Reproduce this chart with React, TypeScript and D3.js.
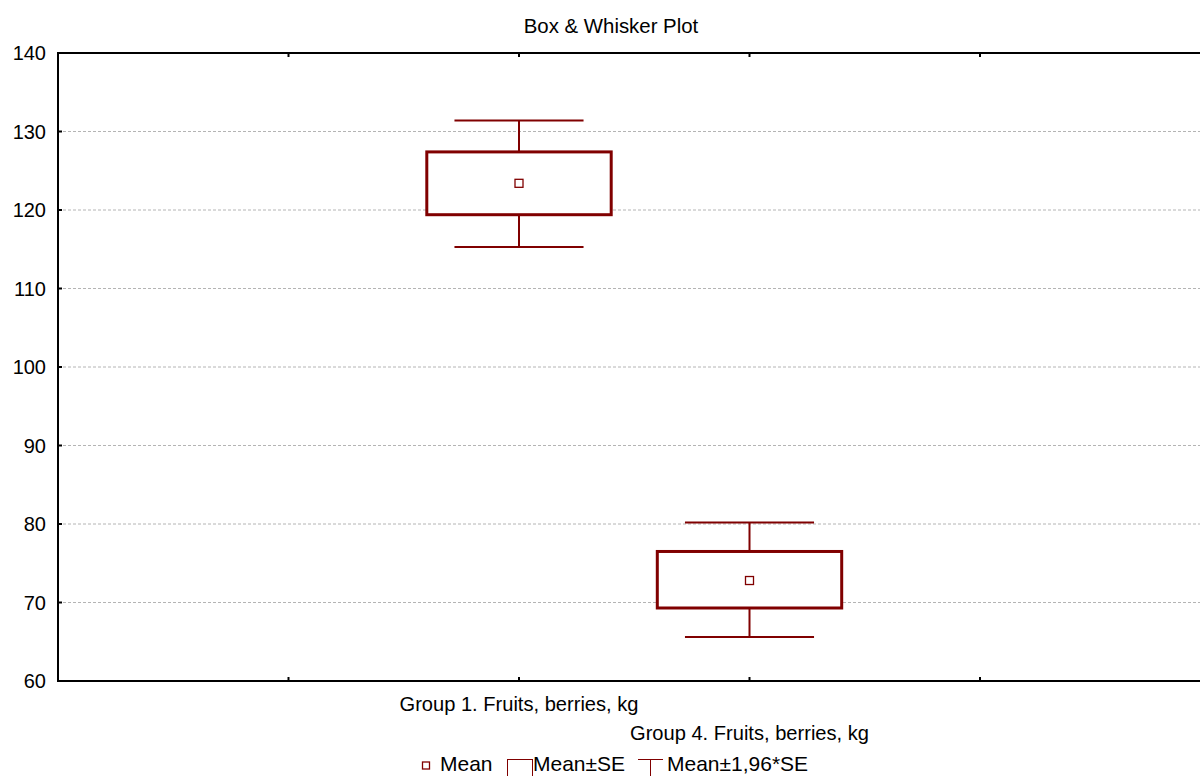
import React from "react";
import * as d3 from "d3";

const categories = ["Group 1. Fruits, berries, kg", "Group 4. Fruits, berries, kg"];
const slots = ["_a", ...categories, "_b"];
const means = [123.4, 72.8];
const seLow = [119.4, 69.3];
const seHigh = [127.4, 76.5];
const ciLow = [115.3, 65.6];
const ciHigh = [131.4, 80.2];
const yTicks = [60, 70, 80, 90, 100, 110, 120, 130, 140];
const title = "Box & Whisker Plot";
const legendLabels = ["Mean", "Mean±SE", "Mean±1,96*SE"];

const W = 1200;
const H = 776;
const left = 58;
const right = 1210.5;
const top = 53;
const bottom = 681;
const RED = "#800000";
const FONT = "'Liberation Sans', Arial, sans-serif";

export default function App() {
  const x = d3.scalePoint<string>().domain(slots).range([left, right]).padding(1);
  const y = d3.scaleLinear().domain([60, 140]).range([bottom, top]);
  const step = x.step();
  const boxW = step * 0.8;
  const capW = step * 0.56;
  const legY = 771;

  return (
    <svg
      width={W}
      height={H}
      style={{ position: "absolute", left: 0, top: 0, background: "#fff", overflow: "hidden" }}
      fontFamily={FONT}
    >
      <rect x={0} y={0} width={W} height={H} fill="#fff" />
      <text x={611} y={33} textAnchor="middle" fontSize={20.4} fill="#000">
        {title}
      </text>
      {/* gridlines */}
      {yTicks
        .filter((t) => t !== 60 && t !== 140)
        .map((t) => (
          <line
            key={"g" + t}
            x1={left}
            x2={right}
            y1={y(t)}
            y2={y(t)}
            stroke="#b4b4b4"
            strokeWidth={1}
            strokeDasharray="3,2"
          />
        ))}
      {/* frame */}
      <rect x={left} y={top} width={right - left} height={bottom - top} fill="none" stroke="#000" strokeWidth={2} />
      {/* y ticks */}
      {yTicks.map((t) => (
        <g key={"t" + t}>
          <line x1={left} x2={left + 4} y1={y(t)} y2={y(t)} stroke="#000" strokeWidth={2} />
          <text x={46} y={y(t)} dy="0.36em" textAnchor="end" fontSize={20} fill="#000">
            {t}
          </text>
        </g>
      ))}
      {/* x ticks */}
      {slots.map((s) => (
        <g key={"x" + s}>
          <line x1={x(s)} x2={x(s)} y1={bottom} y2={bottom - 4} stroke="#000" strokeWidth={2} />
          <line x1={x(s)} x2={x(s)} y1={top} y2={top + 4} stroke="#000" strokeWidth={2} />
        </g>
      ))}
      {/* x labels */}
      {categories.map((c, i) => (
        <text key={"l" + c} x={x(c)} y={i === 0 ? 711 : 740} textAnchor="middle" fontSize={20.1} fill="#000">
          {c}
        </text>
      ))}
      {/* boxes */}
      {categories.map((c, i) => {
        const cx = x(c) as number;
        return (
          <g key={"b" + c}>
            <line x1={cx} x2={cx} y1={y(ciHigh[i])} y2={y(seHigh[i])} stroke={RED} strokeWidth={2} />
            <line x1={cx} x2={cx} y1={y(seLow[i])} y2={y(ciLow[i])} stroke={RED} strokeWidth={2} />
            <line x1={cx - capW / 2} x2={cx + capW / 2} y1={y(ciHigh[i])} y2={y(ciHigh[i])} stroke={RED} strokeWidth={2} />
            <line x1={cx - capW / 2} x2={cx + capW / 2} y1={y(ciLow[i])} y2={y(ciLow[i])} stroke={RED} strokeWidth={2} />
            <rect
              x={cx - boxW / 2}
              y={y(seHigh[i])}
              width={boxW}
              height={y(seLow[i]) - y(seHigh[i])}
              fill="#fff"
              stroke={RED}
              strokeWidth={3}
            />
            <rect x={cx - 4} y={y(means[i]) - 4} width={8} height={8} fill="#fff" stroke={RED} strokeWidth={1.3} />
          </g>
        );
      })}
      {/* legend */}
      <g>
        <rect x={422.5} y={legY - 9} width={7} height={7} fill="#fff" stroke={RED} strokeWidth={1.3} />
        <text x={440} y={legY} fontSize={21} fill="#000">
          {legendLabels[0]}
        </text>
        <rect x={507.5} y={759.5} width={25} height={40} fill="#fff" stroke={RED} strokeWidth={1} />
        <text x={533} y={legY} fontSize={21} fill="#000">
          {legendLabels[1]}
        </text>
        <line x1={638} x2={663} y1={759.5} y2={759.5} stroke={RED} strokeWidth={1} />
        <line x1={650.5} x2={650.5} y1={759.5} y2={780} stroke={RED} strokeWidth={1} />
        <text x={667} y={legY} fontSize={21} fill="#000">
          {legendLabels[2]}
        </text>
      </g>
    </svg>
  );
}
